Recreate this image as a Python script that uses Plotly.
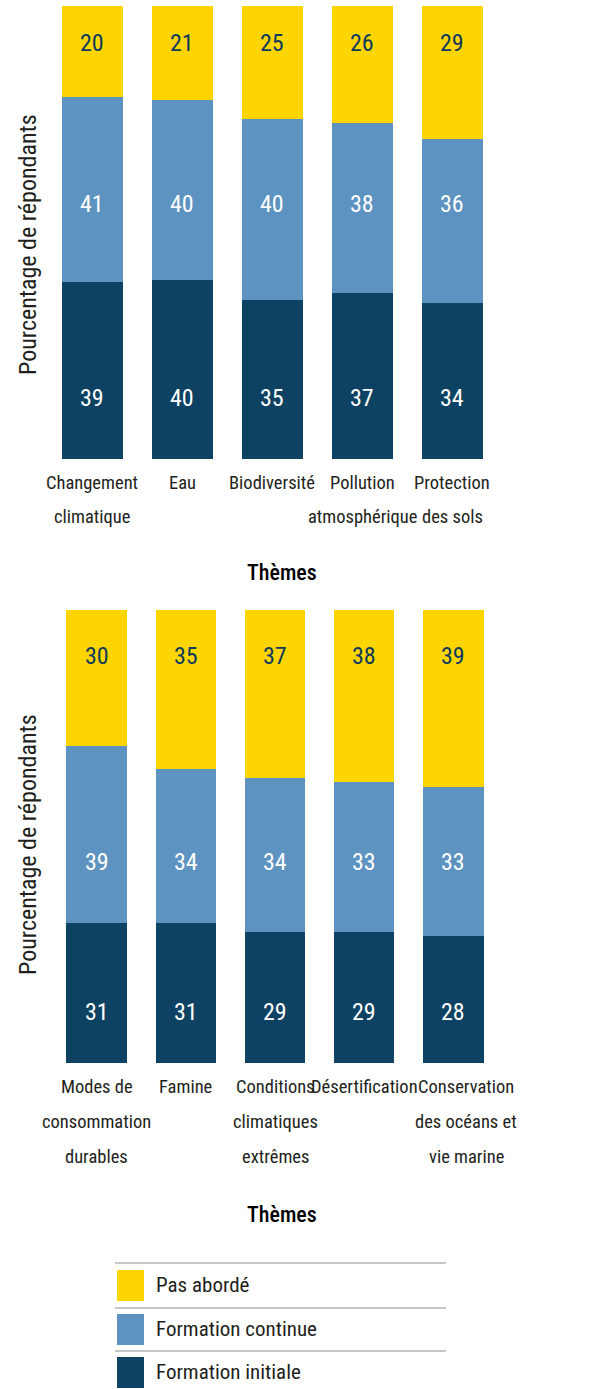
import plotly.graph_objects as go

W, H = 614, 1389

# ---------------- data ----------------
cats_top = ["Changement<br>climatique", "Eau", "Biodiversité", "Pollution<br>atmosphérique", "Protection<br>des sols"]
pas_top = [20, 21, 25, 26, 29]
cont_top = [41, 40, 40, 38, 36]
init_top = [39, 40, 35, 37, 34]

cats_bot = ["Modes de<br>consommation<br>durables", "Famine", "Conditions<br>climatiques<br>extrêmes",
            "Désertification", "Conservation<br>des océans et<br>vie marine"]
pas_bot = [30, 35, 37, 38, 39]
cont_bot = [39, 34, 34, 33, 33]
init_bot = [31, 31, 29, 29, 28]

series_names = ["Formation initiale", "Formation continue", "Pas abordé"]
colors = {"Formation initiale": "#0E4262", "Formation continue": "#5C93C0", "Pas abordé": "#FFD500"}
label_colors = {"Formation initiale": "#FFFFFF", "Formation continue": "#FFFFFF", "Pas abordé": "#0E3A5C"}

# label heights (in % of bar) per panel, per series
label_levels_top = {"Formation initiale": 13.5, "Formation continue": 56.3, "Pas abordé": 91.8}
label_levels_bot = {"Formation initiale": 11.3, "Formation continue": 44.4, "Pas abordé": 89.8}
cat_xshift_top = [0, 0, 0, 0, 0]
cat_xshift_bot = [0, 0, 0, 0, 13]

FONT = "Roboto Condensed, Liberation Sans Narrow, sans-serif"
TXT = "#231F20"

def px(x):
    return x / W

def py(y):
    return 1 - y / H

fig = go.Figure()

panels = [
    ("x", "y", cats_top, {"Formation initiale": init_top, "Formation continue": cont_top, "Pas abordé": pas_top},
     label_levels_top, cat_xshift_top, 34.0),
    ("x2", "y2", cats_bot, {"Formation initiale": init_bot, "Formation continue": cont_bot, "Pas abordé": pas_bot},
     label_levels_bot, cat_xshift_bot, 35.0),
]

annotations = []
for xa, ya, cats, vals, levels, xshifts, lstep in panels:
    for name in series_names:
        fig.add_trace(go.Bar(
            x=cats, y=vals[name], name=name, xaxis=xa, yaxis=ya,
            marker=dict(color=colors[name], line=dict(width=0)),
            showlegend=False, hoverinfo="x+y+name",
        ))
        for c, v in zip(cats, vals[name]):
            annotations.append(dict(
                x=c, y=levels[name], xref=xa, yref=ya, text=str(v), showarrow=False,
                font=dict(family=FONT, size=24, color=label_colors[name]),
                xanchor="center", yanchor="middle",
            ))
    # category labels below the bars (one text line each, with wide line spacing)
    for c, xs in zip(cats, xshifts):
        for i, line in enumerate(c.split("<br>")):
            annotations.append(dict(
                x=c, y=0, xref=xa, yref=ya, text=line, showarrow=False,
                xanchor="center", yanchor="middle", xshift=xs, yshift=-(24 + lstep * i),
                font=dict(family=FONT, size=18.5, color=TXT),
            ))

# y axis titles
for yc in [245, 845]:
    annotations.append(dict(
        x=px(28), y=py(yc), xref="paper", yref="paper", text="Pourcentage de répondants",
        textangle=-90, showarrow=False, font=dict(family=FONT, size=24, color=TXT),
        xanchor="center", yanchor="middle",
    ))

# x axis titles
for yc in [572, 1214]:
    annotations.append(dict(
        x=px(282), y=py(yc), xref="paper", yref="paper", text="Thèmes",
        showarrow=False, font=dict(family=FONT, size=22, color="#000000", weight=500),
        xanchor="center", yanchor="middle",
    ))

# custom legend
shapes = []
leg_lines = [1263, 1308, 1351]
leg_boxes = [(1270, 1301), (1314, 1345), (1357, 1388)]
leg_order = ["Pas abordé", "Formation continue", "Formation initiale"]
for yl in leg_lines:
    shapes.append(dict(type="line", xref="paper", yref="paper", x0=px(115), x1=px(446),
                       y0=py(yl), y1=py(yl), line=dict(color="#B3B3B3", width=1.5)))
for (y0, y1), name in zip(leg_boxes, leg_order):
    shapes.append(dict(type="rect", xref="paper", yref="paper", x0=px(117), x1=px(144),
                       y0=py(y1), y1=py(y0), fillcolor=colors[name], line=dict(width=0)))
    annotations.append(dict(x=px(154), y=py((y0 + y1) / 2 - 1), xref="paper", yref="paper",
                            text=name, showarrow=False, xanchor="left", yanchor="middle",
                            font=dict(family=FONT, size=21, color=TXT)))

axis_common = dict(showgrid=False, zeroline=False, showline=False, ticks="", range=[-0.5, 4.5],
                   autorange=False, showticklabels=False, automargin=False, fixedrange=True)
yaxis_common = dict(range=[0, 100], autorange=False, showgrid=False, zeroline=False, showline=False,
                    showticklabels=False, ticks="", automargin=False, fixedrange=True)

fig.update_layout(
    template="none",
    width=W, height=H,
    margin=dict(l=0, r=0, t=0, b=0, pad=0, autoexpand=False),
    paper_bgcolor="white", plot_bgcolor="white",
    barmode="stack", barnorm="percent", bargap=0.322,
    xaxis=dict(domain=[px(47), px(497.5)], anchor="y", **axis_common),
    yaxis=dict(domain=[py(459), py(6)], anchor="x", **yaxis_common),
    xaxis2=dict(domain=[px(51.9), px(498.1)], anchor="y2", **axis_common),
    yaxis2=dict(domain=[py(1063), py(610)], anchor="x2", **yaxis_common),
    annotations=annotations, shapes=shapes, showlegend=False,
)

fig.write_html("out.html")
